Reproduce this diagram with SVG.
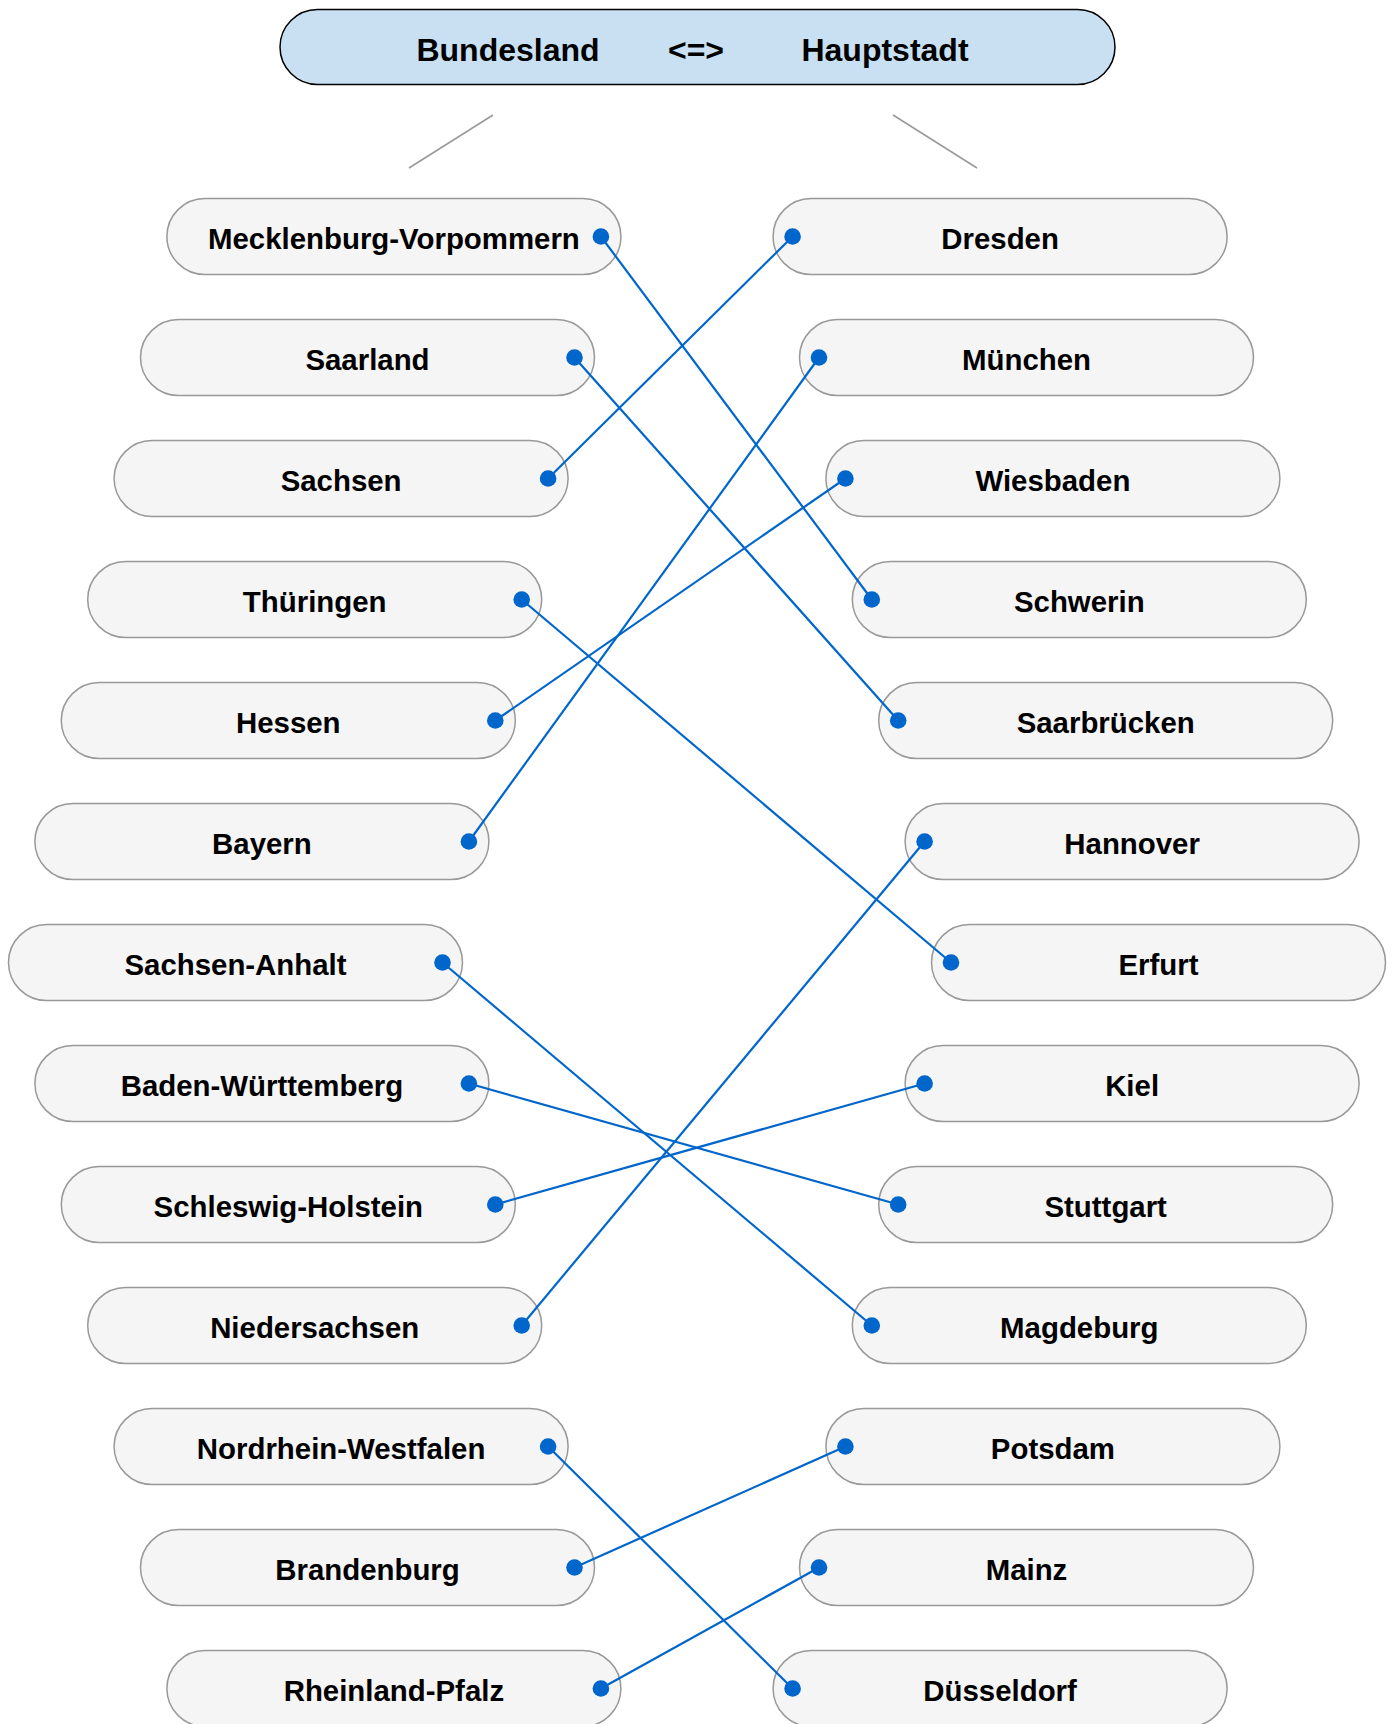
<svg xmlns="http://www.w3.org/2000/svg" width="1394" height="1724" viewBox="0 0 1394 1724">
<style>
.box{fill:#f5f5f5;stroke:#999;stroke-width:1.5}
.title{fill:#c8e0f2;stroke:#000;stroke-width:1.5}
text{font-family:"Liberation Sans",Arial,sans-serif;font-weight:bold;fill:#000;text-anchor:middle}
.t{font-size:29.4px}
.h{font-size:32px}
.c{stroke:#0066cc;stroke-width:2.2;fill:none}
.dot{fill:#0066cc}
.g{stroke:#999;stroke-width:1.5}
</style>
<g id="title">
<rect class="title" x="280" y="9.5" width="835" height="75" rx="37.5"/>
<text class="h" x="508" y="60.5">Bundesland</text>
<text class="h" x="696" y="60.5">&lt;=&gt;</text>
<text class="h" x="885" y="60.5">Hauptstadt</text>
</g>
<g id="guides">
<line class="g" x1="493" y1="115" x2="409" y2="168"/>
<line class="g" x1="893" y1="115" x2="977" y2="168"/>
</g>
<g id="left">
<g id="L1"><rect class="box" x="166.9" y="198.5" width="454" height="76" rx="38"/><text class="t" x="393.9" y="248.5">Mecklenburg-Vorpommern</text></g>
<g id="L2"><rect class="box" x="140.5" y="319.5" width="454" height="76" rx="38"/><text class="t" x="367.5" y="369.5">Saarland</text></g>
<g id="L3"><rect class="box" x="114.1" y="440.5" width="454" height="76" rx="38"/><text class="t" x="341.1" y="490.5">Sachsen</text></g>
<g id="L4"><rect class="box" x="87.7" y="561.5" width="454" height="76" rx="38"/><text class="t" x="314.7" y="611.5">Thüringen</text></g>
<g id="L5"><rect class="box" x="61.3" y="682.5" width="454" height="76" rx="38"/><text class="t" x="288.3" y="732.5">Hessen</text></g>
<g id="L6"><rect class="box" x="34.9" y="803.5" width="454" height="76" rx="38"/><text class="t" x="261.9" y="853.5">Bayern</text></g>
<g id="L7"><rect class="box" x="8.5" y="924.5" width="454" height="76" rx="38"/><text class="t" x="235.5" y="974.5">Sachsen-Anhalt</text></g>
<g id="L8"><rect class="box" x="34.9" y="1045.5" width="454" height="76" rx="38"/><text class="t" x="261.9" y="1095.5">Baden-Württemberg</text></g>
<g id="L9"><rect class="box" x="61.3" y="1166.5" width="454" height="76" rx="38"/><text class="t" x="288.3" y="1216.5">Schleswig-Holstein</text></g>
<g id="L10"><rect class="box" x="87.7" y="1287.5" width="454" height="76" rx="38"/><text class="t" x="314.7" y="1337.5">Niedersachsen</text></g>
<g id="L11"><rect class="box" x="114.1" y="1408.5" width="454" height="76" rx="38"/><text class="t" x="341.1" y="1458.5">Nordrhein-Westfalen</text></g>
<g id="L12"><rect class="box" x="140.5" y="1529.5" width="454" height="76" rx="38"/><text class="t" x="367.5" y="1579.5">Brandenburg</text></g>
<g id="L13"><rect class="box" x="166.9" y="1650.5" width="454" height="76" rx="38"/><text class="t" x="393.9" y="1700.5">Rheinland-Pfalz</text></g>
</g>
<g id="right">
<g id="R1"><rect class="box" x="773.1" y="198.5" width="454" height="76" rx="38"/><text class="t" x="1000.1" y="248.5">Dresden</text></g>
<g id="R2"><rect class="box" x="799.5" y="319.5" width="454" height="76" rx="38"/><text class="t" x="1026.5" y="369.5">München</text></g>
<g id="R3"><rect class="box" x="825.9" y="440.5" width="454" height="76" rx="38"/><text class="t" x="1052.9" y="490.5">Wiesbaden</text></g>
<g id="R4"><rect class="box" x="852.3" y="561.5" width="454" height="76" rx="38"/><text class="t" x="1079.3" y="611.5">Schwerin</text></g>
<g id="R5"><rect class="box" x="878.7" y="682.5" width="454" height="76" rx="38"/><text class="t" x="1105.7" y="732.5">Saarbrücken</text></g>
<g id="R6"><rect class="box" x="905.1" y="803.5" width="454" height="76" rx="38"/><text class="t" x="1132.1" y="853.5">Hannover</text></g>
<g id="R7"><rect class="box" x="931.5" y="924.5" width="454" height="76" rx="38"/><text class="t" x="1158.5" y="974.5">Erfurt</text></g>
<g id="R8"><rect class="box" x="905.1" y="1045.5" width="454" height="76" rx="38"/><text class="t" x="1132.1" y="1095.5">Kiel</text></g>
<g id="R9"><rect class="box" x="878.7" y="1166.5" width="454" height="76" rx="38"/><text class="t" x="1105.7" y="1216.5">Stuttgart</text></g>
<g id="R10"><rect class="box" x="852.3" y="1287.5" width="454" height="76" rx="38"/><text class="t" x="1079.3" y="1337.5">Magdeburg</text></g>
<g id="R11"><rect class="box" x="825.9" y="1408.5" width="454" height="76" rx="38"/><text class="t" x="1052.9" y="1458.5">Potsdam</text></g>
<g id="R12"><rect class="box" x="799.5" y="1529.5" width="454" height="76" rx="38"/><text class="t" x="1026.5" y="1579.5">Mainz</text></g>
<g id="R13"><rect class="box" x="773.1" y="1650.5" width="454" height="76" rx="38"/><text class="t" x="1000.1" y="1700.5">Düsseldorf</text></g>
</g>
<g id="connectors">
<line class="c" x1="600.9" y1="236.5" x2="871.8" y2="599.5"/>
<line class="c" x1="574.5" y1="357.5" x2="898.2" y2="720.5"/>
<line class="c" x1="548.1" y1="478.5" x2="792.6" y2="236.5"/>
<line class="c" x1="521.7" y1="599.5" x2="951" y2="962.5"/>
<line class="c" x1="495.3" y1="720.5" x2="845.4" y2="478.5"/>
<line class="c" x1="468.9" y1="841.5" x2="819" y2="357.5"/>
<line class="c" x1="442.5" y1="962.5" x2="871.8" y2="1325.5"/>
<line class="c" x1="468.9" y1="1083.5" x2="898.2" y2="1204.5"/>
<line class="c" x1="495.3" y1="1204.5" x2="924.6" y2="1083.5"/>
<line class="c" x1="521.7" y1="1325.5" x2="924.6" y2="841.5"/>
<line class="c" x1="548.1" y1="1446.5" x2="792.6" y2="1688.5"/>
<line class="c" x1="574.5" y1="1567.5" x2="845.4" y2="1446.5"/>
<line class="c" x1="600.9" y1="1688.5" x2="819" y2="1567.5"/>
<g id="dots">
<circle class="dot" cx="600.9" cy="236.5" r="8.3"/><circle class="dot" cx="574.5" cy="357.5" r="8.3"/><circle class="dot" cx="548.1" cy="478.5" r="8.3"/><circle class="dot" cx="521.7" cy="599.5" r="8.3"/><circle class="dot" cx="495.3" cy="720.5" r="8.3"/><circle class="dot" cx="468.9" cy="841.5" r="8.3"/><circle class="dot" cx="442.5" cy="962.5" r="8.3"/><circle class="dot" cx="468.9" cy="1083.5" r="8.3"/><circle class="dot" cx="495.3" cy="1204.5" r="8.3"/><circle class="dot" cx="521.7" cy="1325.5" r="8.3"/><circle class="dot" cx="548.1" cy="1446.5" r="8.3"/><circle class="dot" cx="574.5" cy="1567.5" r="8.3"/><circle class="dot" cx="600.9" cy="1688.5" r="8.3"/>
<circle class="dot" cx="792.6" cy="236.5" r="8.3"/><circle class="dot" cx="819" cy="357.5" r="8.3"/><circle class="dot" cx="845.4" cy="478.5" r="8.3"/><circle class="dot" cx="871.8" cy="599.5" r="8.3"/><circle class="dot" cx="898.2" cy="720.5" r="8.3"/><circle class="dot" cx="924.6" cy="841.5" r="8.3"/><circle class="dot" cx="951" cy="962.5" r="8.3"/><circle class="dot" cx="924.6" cy="1083.5" r="8.3"/><circle class="dot" cx="898.2" cy="1204.5" r="8.3"/><circle class="dot" cx="871.8" cy="1325.5" r="8.3"/><circle class="dot" cx="845.4" cy="1446.5" r="8.3"/><circle class="dot" cx="819" cy="1567.5" r="8.3"/><circle class="dot" cx="792.6" cy="1688.5" r="8.3"/>
</g>
</g>
</svg>
